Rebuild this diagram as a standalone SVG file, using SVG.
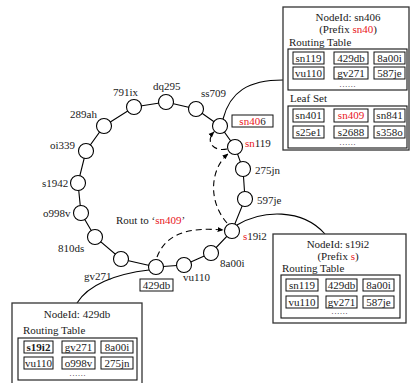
<svg xmlns="http://www.w3.org/2000/svg" width="411" height="383" viewBox="0 0 411 383">
<defs>
<style>
text{font-family:"Liberation Serif","Times New Roman",serif;font-size:11px;fill:#1a1a1a}
.r{fill:#e8141b}
.b{font-weight:bold}
.dots{font-size:8px;letter-spacing:0.8px}
.node{fill:#fff;stroke:#000;stroke-width:1.1}
.ring{fill:none;stroke:#000;stroke-width:1.1}
.box{fill:#fff;stroke:#333;stroke-width:1.3}
.tbl{fill:none;stroke:#111;stroke-width:1.1}
.cell{fill:#fff;stroke:#111;stroke-width:1}
.lbl{fill:#fff;stroke:#111;stroke-width:1}
.dash{fill:none;stroke:#000;stroke-width:1.1;stroke-dasharray:6,4}
.call{fill:none;stroke:#000;stroke-width:1.1}
.c{text-anchor:middle}
</style>
<marker id="ah" viewBox="0 0 10 10" refX="9" refY="5" markerWidth="6" markerHeight="6" orient="auto" markerUnits="userSpaceOnUse">
<path d="M0,1 L10,5 L0,9 z" fill="#000"/>
</marker>
</defs>

<g id="connectors">
<polygon class="ring" points="104,126 134,107 166,102 196,109 220,126 235,147 243,169 245,199 232,231 211,253 184,265 156,267 121,259 95,237 81,213 78,183 86,151"/>
<path class="call" d="M223,119 C230,92 248,80 283,80"/>
<path class="call" d="M237,225 C262,210 302,208 325,234"/>
<path class="call" d="M149,270 C115,274 88,285 77,303"/>
<path class="dash" d="M157,257 C166,233 190,227 223,230" marker-end="url(#ah)"/>
<path class="dash" d="M227,223 C207,200 211,168 228,154" marker-end="url(#ah)"/>
<path class="dash" d="M227,149 C213,152 205,141 214,132" marker-end="url(#ah)"/>
</g>

<g id="n-289ah"><circle class="node" cx="104" cy="126" r="7.5"/><text x="70" y="118">289ah</text></g>
<g id="n-791ix"><circle class="node" cx="134" cy="107" r="7.5"/><text x="113" y="96">791ix</text></g>
<g id="n-dq295"><circle class="node" cx="166" cy="102" r="7.5"/><text x="153" y="90">dq295</text></g>
<g id="n-ss709"><circle class="node" cx="196" cy="109" r="7.5"/><text x="201" y="97">ss709</text></g>
<g id="n-sn406"><circle class="node" cx="220" cy="126" r="7.5"/><rect class="lbl" x="232" y="115" width="41" height="12"/><text class="c" x="252.5" y="125"><tspan class="r">sn40</tspan>6</text></g>
<g id="n-sn119"><circle class="node" cx="235" cy="147" r="7.5"/><text x="245" y="147"><tspan class="r">sn</tspan>119</text></g>
<g id="n-275jn"><circle class="node" cx="243" cy="169" r="7.5"/><text x="255" y="174">275jn</text></g>
<g id="n-597je"><circle class="node" cx="245" cy="199" r="7.5"/><text x="257" y="204">597je</text></g>
<g id="n-s19i2"><circle class="node" cx="232" cy="231" r="7.5"/><text x="243" y="240"><tspan class="r">s</tspan>19i2</text></g>
<g id="n-8a00i"><circle class="node" cx="211" cy="253" r="7.5"/><text x="220" y="267">8a00i</text></g>
<g id="n-vu110"><circle class="node" cx="184" cy="265" r="7.5"/><text x="183" y="281">vu110</text></g>
<g id="n-429db"><circle class="node" cx="156" cy="267" r="7.5"/><rect class="lbl" x="140" y="279" width="33" height="12"/><text class="c" x="156.5" y="289">429db</text></g>
<g id="n-gv271"><circle class="node" cx="121" cy="259" r="7.5"/><text x="84" y="280">gv271</text></g>
<g id="n-810ds"><circle class="node" cx="95" cy="237" r="7.5"/><text x="58" y="252">810ds</text></g>
<g id="n-o998v"><circle class="node" cx="81" cy="213" r="7.5"/><text x="43" y="217">o998v</text></g>
<g id="n-s1942"><circle class="node" cx="78" cy="183" r="7.5"/><text x="42" y="187">s1942</text></g>
<g id="n-oi339"><circle class="node" cx="86" cy="151" r="7.5"/><text x="50" y="149">oi339</text></g>

<g id="route-label"><text x="116" y="224">Rout to ‘<tspan class="r">sn409</tspan>’</text></g>

<g id="box-sn406">
<rect class="box" x="283" y="7" width="126" height="143"/>
<text class="c" x="348" y="21">NodeId: sn406</text>
<text class="c" x="348" y="33">(Prefix <tspan class="r">sn40</tspan>)</text>
<text x="289" y="46">Routing Table</text>
<rect class="tbl" x="288" y="49" width="119" height="41"/>
<rect class="cell" x="293" y="52" width="31" height="12"/><text class="c" x="308.5" y="62">sn119</text>
<rect class="cell" x="334" y="52" width="34" height="12"/><text class="c" x="351" y="62">429db</text>
<rect class="cell" x="374" y="52" width="31" height="12"/><text class="c" x="389.5" y="62">8a00i</text>
<rect class="cell" x="293" y="67" width="31" height="12"/><text class="c" x="308.5" y="77">vu110</text>
<rect class="cell" x="334" y="67" width="34" height="12"/><text class="c" x="351" y="77">gv271</text>
<rect class="cell" x="374" y="67" width="31" height="12"/><text class="c" x="389.5" y="77">587je</text>
<text class="c dots" x="348" y="87">......</text>
<text x="290" y="102">Leaf Set</text>
<rect class="tbl" x="288" y="106" width="119" height="42"/>
<rect class="cell" x="293" y="109" width="31" height="13"/><text class="c" x="308.5" y="119">sn401</text>
<rect class="cell" x="334" y="109" width="34" height="13"/><text class="c r" x="351" y="119">sn409</text>
<rect class="cell" x="374" y="109" width="31" height="13"/><text class="c" x="389.5" y="119">sn841</text>
<rect class="cell" x="293" y="126" width="31" height="12"/><text class="c" x="308.5" y="136">s25e1</text>
<rect class="cell" x="334" y="126" width="34" height="12"/><text class="c" x="351" y="136">s2688</text>
<rect class="cell" x="374" y="126" width="31" height="12"/><text class="c" x="389.5" y="136">s358o</text>
<text class="c dots" x="348" y="145">......</text>
</g>

<g id="box-s19i2">
<rect class="box" x="273" y="234" width="133" height="89"/>
<text class="c" x="338" y="248">NodeId: s19i2</text>
<text class="c" x="338" y="260">(Prefix <tspan class="r">s</tspan>)</text>
<text x="282" y="272">Routing Table</text>
<rect class="tbl" x="281" y="275" width="119" height="43"/>
<rect class="cell" x="286" y="279" width="32" height="12"/><text class="c" x="302" y="289">sn119</text>
<rect class="cell" x="326" y="279" width="31" height="12"/><text class="c" x="341.5" y="289">429db</text>
<rect class="cell" x="363" y="279" width="31" height="12"/><text class="c" x="378.5" y="289">8a00i</text>
<rect class="cell" x="286" y="296" width="32" height="12"/><text class="c" x="302" y="306">vu110</text>
<rect class="cell" x="326" y="296" width="31" height="12"/><text class="c" x="341.5" y="306">gv271</text>
<rect class="cell" x="363" y="296" width="31" height="12"/><text class="c" x="378.5" y="306">587je</text>
<text class="c dots" x="340" y="314">......</text>
</g>

<g id="box-429db">
<rect class="box" x="12" y="303" width="130" height="90"/>
<text class="c" x="77" y="318">NodeId: 429db</text>
<text x="23" y="334">Routing Table</text>
<rect class="tbl" x="18" y="338" width="119" height="42"/>
<rect class="cell" x="24" y="341" width="29" height="12"/><text class="c b" x="38.5" y="351">s19i2</text>
<rect class="cell" x="62" y="341" width="33" height="12"/><text class="c" x="78.5" y="351">gv271</text>
<rect class="cell" x="101" y="341" width="32" height="12"/><text class="c" x="117" y="351">8a00i</text>
<rect class="cell" x="24" y="357" width="29" height="12"/><text class="c" x="38.5" y="367">vu110</text>
<rect class="cell" x="62" y="357" width="33" height="12"/><text class="c" x="78.5" y="367">o998v</text>
<rect class="cell" x="101" y="357" width="32" height="12"/><text class="c" x="117" y="367">275jn</text>
<text class="c dots" x="78" y="376">......</text>
</g>
</svg>
